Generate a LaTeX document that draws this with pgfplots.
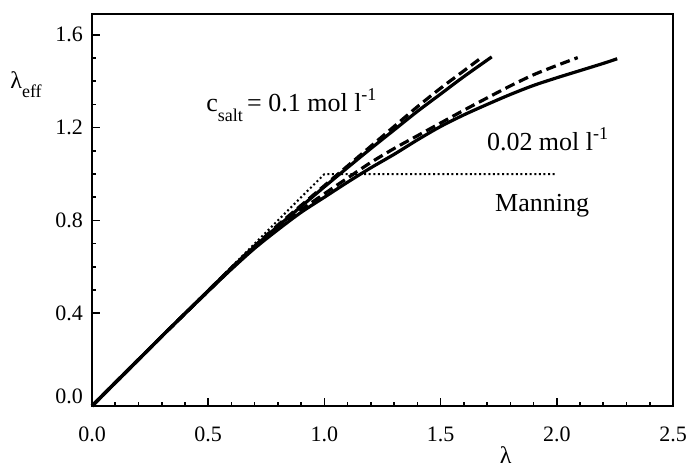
\documentclass[border=0pt]{standalone}
\usepackage{fontspec}
\setmainfont{Liberation Serif}
\usepackage{pgfplots}
\pgfplotsset{compat=1.18}
\begin{document}
\begin{tikzpicture}
\begin{axis}[
  scale only axis, width=290.5pt, height=196pt,
  xmin=0, xmax=2.5, ymin=0, ymax=1.69,
  axis line style={line width=1.1pt},
  xtick={0,0.5,1,1.5,2,2.5},
  ytick={0.4,0.8,1.2,1.6},
  extra y ticks={0},
  extra y tick style={yticklabel style={yshift=5pt}},
  minor x tick num=4, minor y tick num=3,
  tick align=inside,
  xtick pos=bottom, ytick pos=left,
  major tick length=4pt, minor tick length=2pt,
  tick style={line width=0.8pt, black},
  /pgf/number format/assume math mode=true,
  /pgf/number format/.cd, fixed, fixed zerofill, precision=1, /pgfplots/.cd,
  ticklabel style={font=\fontsize{11}{13}\selectfont},
  xticklabel style={yshift=-7pt},
  yticklabel style={xshift=-1pt},
  clip=false,
]
% Manning
\addplot[black, line width=1pt, dash pattern=on 1pt off 1.3pt] coordinates {(0,0) (1,1) (2,1)};
% 0.1 mol/l solid
\addplot[black, line width=1.6pt, smooth, tension=0.5] coordinates {
(0,0) (0.3,0.3) (0.5,0.497) (0.6,0.595) (0.7,0.688) (0.8,0.775) (0.9,0.86) (1.0,0.945) (1.1,1.028) (1.2,1.11) (1.3,1.19) (1.4,1.27) (1.5,1.345) (1.6,1.42) (1.72,1.505)};
% 0.1 mol/l dashed
\addplot[black, line width=1.6pt, smooth, tension=0.5, dash pattern=on 5pt off 2.5pt] coordinates {
(0,0) (0.3,0.3) (0.5,0.497) (0.6,0.596) (0.7,0.69) (0.8,0.78) (0.9,0.865) (1.0,0.95) (1.1,1.035) (1.2,1.12) (1.3,1.205) (1.4,1.29) (1.5,1.37) (1.6,1.445) (1.68,1.505)};
% 0.02 mol/l solid
\addplot[black, line width=1.6pt, smooth, tension=0.5] coordinates {
(0,0) (0.3,0.3) (0.5,0.495) (0.6,0.59) (0.7,0.68) (0.8,0.76) (0.9,0.835) (1.0,0.9) (1.1,0.965) (1.2,1.027) (1.3,1.085) (1.4,1.147) (1.5,1.205) (1.6,1.255) (1.7,1.30) (1.8,1.343) (1.9,1.382) (2.0,1.415) (2.1,1.446) (2.2,1.477) (2.26,1.497)};
% 0.02 mol/l dashed
\addplot[black, line width=1.6pt, smooth, tension=0.5, dash pattern=on 5pt off 2.5pt] coordinates {
(0,0) (0.3,0.3) (0.5,0.495) (0.6,0.592) (0.7,0.685) (0.8,0.765) (0.9,0.845) (1.0,0.915) (1.1,0.983) (1.2,1.05) (1.3,1.11) (1.4,1.165) (1.5,1.22) (1.6,1.275) (1.7,1.328) (1.8,1.38) (1.9,1.428) (2.0,1.468) (2.09,1.502)};

\node[anchor=base west, inner sep=0pt, font=\fontsize{13}{15}\selectfont] at (axis cs:0.49,1.269)
  {c\raisebox{-0.8ex}{\fontsize{9}{10}\selectfont salt}\,= 0.1 mol l\raisebox{0.9ex}{\fontsize{9}{10}\selectfont -1}};
\node[anchor=base west, inner sep=0pt, font=\fontsize{13}{15}\selectfont] at (axis cs:1.698,1.101)
  {0.02 mol l\raisebox{0.9ex}{\fontsize{9}{10}\selectfont -1}};
\node[anchor=base west, inner sep=0pt, font=\fontsize{13}{15}\selectfont] at (axis cs:1.733,0.839) {Manning};
\node[anchor=west, inner sep=0pt, font=\fontsize{12}{14}\selectfont] at ([xshift=-41pt]rel axis cs:0,0.82)
  {λ\raisebox{-0.8ex}{\fontsize{9}{10}\selectfont eff}};
\node[anchor=center, inner sep=0pt, font=\fontsize{12}{14}\selectfont] at ([yshift=-24.5pt]axis cs:1.78,0) {λ};
\end{axis}
\pgfresetboundingbox
\path[use as bounding box] ([xshift=-46pt,yshift=-30.5pt]current axis.south west) rectangle ([xshift=7.5pt,yshift=7pt]current axis.north east);
\end{tikzpicture}
\end{document}
